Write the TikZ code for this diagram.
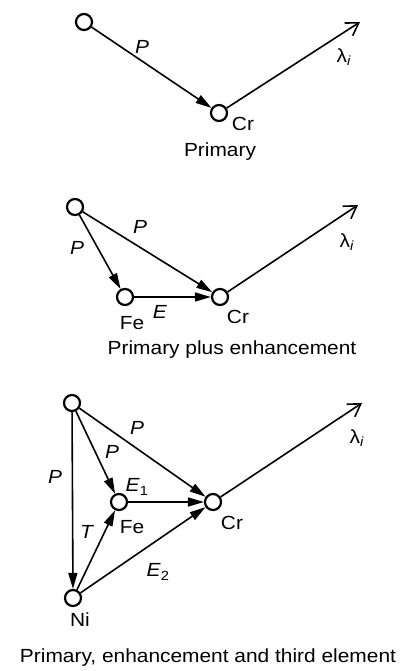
\documentclass[tikz,border=0pt]{standalone}
\usepackage{fontspec}
\setmainfont[FakeStretch=1.1]{Liberation Sans}
\usetikzlibrary{arrows.meta}
\tikzset{
  elem/.style={circle, draw, line width=2.2pt, minimum size=16pt, inner sep=0pt},
  flow/.style={line width=1.6pt, -{Triangle[length=16pt,width=9pt]}},
  emit/.style={line width=1.6pt, -{Straight Barb[length=12pt,width=15pt]}},
}
\newcommand{\lam}{λ\textsubscript{\textit{i}}}
\begin{document}
\begin{tikzpicture}[x=10pt, y=-10pt, inner sep=0pt, font=\fontsize{19}{22}\selectfont]
   \useasboundingbox (0,0) rectangle (40.3,67.1);
   % primary
   \node[elem] (S1) at (8.4,2.2) {};
   \node[elem] (Cr1) at (21.9,11.3) {};
   \coordinate (L1) at (36.0,2.2);
   \draw[flow] (S1) -- (Cr1);
   \draw[emit] (Cr1) -- (L1);
   \node (p1) at (14.2,4.7) {\textit{P}};
   \node (lam1) at (34.4,5.7) {\lam};
   \node (crt1) at (24.3,12.4) {Cr};
   \node (cap1) at (22.0,15.2) {Primary};
   % primary plus enhancement
   \node[elem] (S2) at (7.5,20.7) {};
   \node[elem] (Fe2) at (12.5,29.7) {};
   \node[elem] (Cr2) at (22.0,29.7) {};
   \coordinate (L2) at (35.8,20.5);
   \draw[flow] (S2) -- (Fe2);
   \draw[flow] (S2) -- (Cr2);
   \draw[flow] (Fe2) -- (Cr2);
   \draw[emit] (Cr2) -- (L2);
   \node (p2a) at (14.0,22.7) {\textit{P}};
   \node (p2b) at (7.7,24.8) {\textit{P}};
   \node (e2) at (16.0,31.2) {\textit{E}};
   \node (fet2) at (13.2,32.3) {Fe};
   \node (crt2) at (23.8,31.7) {Cr};
   \node (lam2) at (34.7,24.2) {\lam};
   \node (cap2) at (23.2,35.0) {Primary plus enhancement};
   % third element
   \node[elem] (S3) at (7.2,40.3) {};
   \node[elem] (Fe3) at (11.9,50.2) {};
   \node[elem] (Cr3) at (21.3,50.2) {};
   \node[elem] (Ni3) at (7.3,59.8) {};
   \coordinate (L3) at (36.2,40.3);
   \draw[flow] (S3) -- (Ni3);
   \draw[flow] (S3) -- (Fe3);
   \draw[flow] (S3) -- (Cr3);
   \draw[flow] (Fe3) -- (Cr3);
   \draw[flow] (Ni3) -- (Fe3);
   \draw[flow] (Ni3) -- (Cr3);
   \draw[emit] (Cr3) -- (L3);
   \node (p3a) at (13.7,42.8) {\textit{P}};
   \node (p3b) at (11.2,45.2) {\textit{P}};
   \node (p3c) at (5.5,47.7) {\textit{P}};
   \node (e31) at (13.7,48.7) {\textit{E}\textsubscript{1}};
   \node (fet3) at (13.2,52.7) {Fe};
   \node (t3) at (8.7,53.2) {\textit{T}};
   \node (e32) at (15.8,57.2) {\textit{E}\textsubscript{2}};
   \node (nit3) at (8.0,62.0) {Ni};
   \node (crt3) at (23.2,52.3) {Cr};
   \node (lam3) at (35.7,43.8) {\lam};
   \node (cap3) at (20.8,65.8) {Primary, enhancement and third element};
\end{tikzpicture}
\end{document}
